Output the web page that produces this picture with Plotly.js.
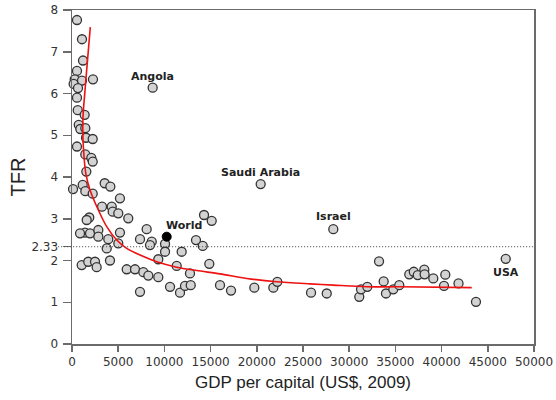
<!DOCTYPE html>
<html>
<head>
<meta charset="utf-8">
<script src="https://cdn.plot.ly/plotly-3.0.1.min.js"></script>
<style>html,body{margin:0;padding:0;background:#fff;}#chart{width:556px;height:400px;}</style>
</head>
<body>
<div id="chart"></div>
<script>
// Country points: GDP per capita (US$, 2009) and TFR
const gdp = [540,1080,1190,540,290,1080,180,650,2270,540,620,1370,730,900,1440,1520,2240,540,1440,2090,
  2240,1550,110,1160,3540,4150,1440,2240,5190,3250,4300,4400,5010,6090,1870,1590,1410,870,1950,2850,
  2850,3930,3760,5190,5010,1050,1760,2490,2670,4110,7360,8080,8630,8440,10070,10070,9340,11870,5920,6820,
  7720,8260,9340,11330,7360,10610,11690,12230,12770,12850,14290,15120,13420,14150,14860,16020,17210,19730,21790,22220,
  25870,27570,31090,31280,31960,33230,33730,33980,34770,35420,36500,36990,37420,38130,38160,39100,40400,40260,41830,43720];
const tfr = [7.76,7.30,6.79,6.54,6.34,6.31,6.23,6.13,6.34,5.90,5.60,5.49,5.25,5.15,5.17,4.94,4.91,4.73,4.54,4.46,
  4.37,4.13,3.71,3.81,3.85,3.77,3.66,3.60,3.49,3.29,3.29,3.17,3.13,3.01,3.03,2.97,2.67,2.65,2.65,2.73,
  2.57,2.51,2.29,2.67,2.41,1.89,1.97,1.97,1.84,2.00,2.51,2.75,2.45,2.37,2.40,2.21,2.03,2.21,1.79,1.79,
  1.72,1.64,1.60,1.87,1.25,1.37,1.23,1.39,1.69,1.41,3.09,2.95,2.49,2.35,1.92,1.41,1.28,1.35,1.35,1.49,
  1.23,1.21,1.13,1.31,1.37,1.98,1.50,1.21,1.31,1.41,1.67,1.73,1.65,1.78,1.67,1.57,1.66,1.39,1.45,1.01];

// Labelled countries
const namedCountries = ["Angola", "Saudi Arabia", "Israel", "USA"];
const namedGdp = [8730, 20420, 28280, 46940];
const namedTfr = [6.14, 3.83, 2.75, 2.04];
const labelShift = [11, 12, 13, -14];

// World average
const worldGdp = [10250];
const worldTfr = [2.57];

// Fitted curve
const fitGdp = [1980,1680,1410,1190,1190,1330,1520,1950,2850,3760,4840,5920,7360,9170,11330,13500,16020,18910,22150,25760,28280,31890,35500,43260];
const fitTfr = [7.59,6.80,6.08,5.44,4.89,4.41,4.05,3.69,3.21,2.81,2.49,2.29,2.13,1.97,1.84,1.76,1.68,1.57,1.49,1.44,1.41,1.37,1.37,1.35];

// Replacement level
const replacement = 2.33;
const yTickVals = [0,1,2,2.33,3,4,5,6,7,8];
const yTickText = ["0","1","2","2.33","3","4","5","6","7","8"];
const xTickVals = [0,5000,10000,15000,20000,25000,30000,35000,40000,45000,50000];

const marker = {size: 9, color: "#d3d3d3", line: {color: "#333", width: 1.3}};

const traces = [
  {x: gdp, y: tfr, mode: "markers", type: "scatter", marker: marker, cliponaxis: false, hoverinfo: "skip"},
  {x: namedGdp, y: namedTfr, mode: "markers", type: "scatter", marker: marker, cliponaxis: false},
  {x: fitGdp, y: fitTfr, mode: "lines", type: "scatter", line: {color: "#ee1111", width: 1.6, shape: "spline", smoothing: 0.8}},
  {x: worldGdp, y: worldTfr, mode: "markers", type: "scatter", marker: {size: 9, color: "#000", line: {color: "#000", width: 1}}}
];

const labelFont = {family: "DejaVu Sans", size: 11, color: "#222", weight: "bold"};
const annotations = namedCountries.map((n, i) => ({
  x: namedGdp[i], y: namedTfr[i], text: n, showarrow: false,
  xanchor: "center", yanchor: "middle", yshift: labelShift[i], font: labelFont
}));
annotations.push({x: worldGdp[0], y: worldTfr[0], text: "World", showarrow: false,
  xanchor: "left", yanchor: "middle", xshift: -3, yshift: 11, font: labelFont});

const axisCommon = {
  showgrid: false, zeroline: false, showline: true, linecolor: "#6b6b6b", linewidth: 1.5,
  mirror: true, ticks: "outside", tickcolor: "#6b6b6b", tickwidth: 1.5,
  tickfont: {family: "DejaVu Sans", size: 12, color: "#333"}
};

const layout = {
  width: 556, height: 400,
  margin: {l: 72, r: 22, t: 10, b: 56},
  paper_bgcolor: "#fff", plot_bgcolor: "#fff",
  showlegend: false,
  xaxis: Object.assign({}, axisCommon, {
    range: [0, 50000], tickvals: xTickVals, ticktext: xTickVals.map(String), ticklen: 6,
    title: {text: "GDP per capital (US$, 2009)", font: {family: "Liberation Sans", size: 17, color: "#222"}, standoff: 8}
  }),
  yaxis: Object.assign({}, axisCommon, {
    range: [0, 8], tickvals: yTickVals, ticktext: yTickText, ticklen: 8, ticklabelstandoff: 2,
    title: {text: "TFR", font: {family: "Liberation Sans", size: 20, color: "#222"}, standoff: 0}
  }),
  shapes: [{type: "line", xref: "paper", yref: "y", x0: -0.03, x1: 1, y0: replacement, y1: replacement,
    line: {color: "#444", width: 1, dash: "1px,2px"}}],
  annotations: annotations
};

Plotly.newPlot("chart", traces, layout, {staticPlot: true, displayModeBar: false});
</script>
</body>
</html>
